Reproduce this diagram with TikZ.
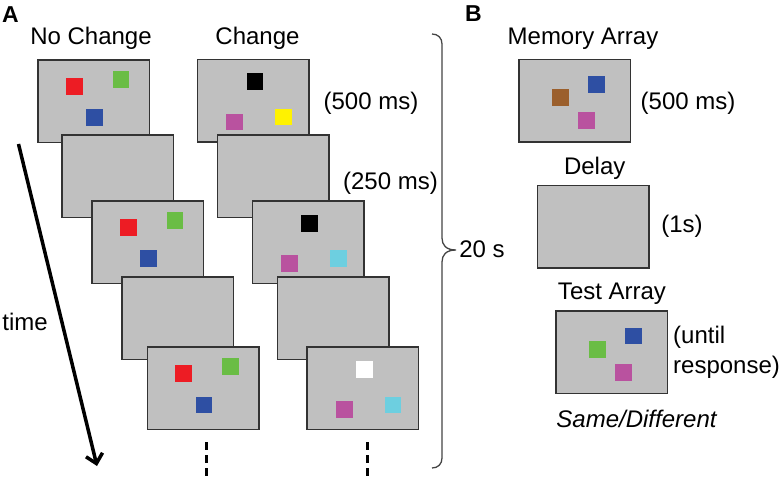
\documentclass[tikz,border=0pt]{standalone}
\usepackage{fontspec}
\setmainfont{Liberation Sans}
\usetikzlibrary{arrows.meta,calc}
\definecolor{scrgray}{HTML}{C0C0C0}
\definecolor{scrline}{HTML}{333333}
\definecolor{sqred}{HTML}{ED1C24}
\definecolor{sqgreen}{HTML}{6ABD45}
\definecolor{sqblue}{HTML}{2E4FA3}
\definecolor{sqmag}{HTML}{B9529F}
\definecolor{sqyellow}{HTML}{FFF200}
\definecolor{sqcyan}{HTML}{6DCFE0}
\definecolor{sqbrown}{HTML}{9B5F2C}
\definecolor{bracecol}{HTML}{444444}
\begin{document}
\begin{tikzpicture}[x=1pt,y=-1pt,
  screen/.style={draw=scrline, fill=scrgray, line width=1.5pt, anchor=north west,
    minimum width=111.5pt, minimum height=82.5pt, inner sep=0pt, outer sep=0pt},
  sq/.style={anchor=north west, minimum size=16.7pt, inner sep=0pt, outer sep=0pt, draw=none},
  lbl/.style={inner sep=0pt, font=\fontsize{24}{28}\selectfont, anchor=base},
  lblw/.style={inner sep=0pt, font=\fontsize{24}{28}\selectfont, anchor=base west},
  panel/.style={inner sep=0pt, font=\fontsize{23}{27}\selectfont\bfseries, anchor=base west},
  dashline/.style={line width=3pt, dash pattern=on 8pt off 5pt}
]
\useasboundingbox (0,0) rectangle (784,478);

% panel letters
\node[panel] (pA) at (2,22.7) {A};
\node[panel] (pB) at (465,21.7) {B};

% headings
\node[lbl] (hNC) at (91,44.3) {No Change};
\node[lbl] (hC) at (257.5,44.3) {Change};

% ---- No Change column ----
\node[screen] (L1) at (38,60) {};
\node[sq, fill=sqred] (L1r) at ($(L1.north west)+(28,18)$) {};
\node[sq, fill=sqgreen] (L1g) at ($(L1.north west)+(74.5,11)$) {};
\node[sq, fill=sqblue] (L1b) at ($(L1.north west)+(48.3,49.5)$) {};
\node[screen] (L2) at (62,135) {};
\node[screen] (L3) at (92,201) {};
\node[sq, fill=sqred] (L3r) at ($(L3.north west)+(28,18)$) {};
\node[sq, fill=sqgreen] (L3g) at ($(L3.north west)+(74.5,11)$) {};
\node[sq, fill=sqblue] (L3b) at ($(L3.north west)+(48.3,49.5)$) {};
\node[screen] (L4) at (122,277) {};
\node[screen] (L5) at (147.3,347) {};
\node[sq, fill=sqred] (L5r) at ($(L5.north west)+(28,18)$) {};
\node[sq, fill=sqgreen] (L5g) at ($(L5.north west)+(74.5,11)$) {};
\node[sq, fill=sqblue] (L5b) at ($(L5.north west)+(48.3,49.5)$) {};

% ---- Change column ----
\node[screen] (M1) at (197.3,59.5) {};
\node[sq, fill=black] (M1k) at ($(M1.north west)+(49.4,14)$) {};
\node[sq, fill=sqmag] (M1m) at ($(M1.north west)+(29,54.3)$) {};
\node[sq, fill=sqyellow] (M1y) at ($(M1.north west)+(78,49.3)$) {};
\node[screen] (M2) at (217.3,135) {};
\node[screen] (M3) at (252.3,201) {};
\node[sq, fill=black] (M3k) at ($(M3.north west)+(49,14)$) {};
\node[sq, fill=sqmag] (M3m) at ($(M3.north west)+(29,54)$) {};
\node[sq, fill=sqcyan] (M3c) at ($(M3.north west)+(78,49.3)$) {};
\node[screen] (M4) at (277.7,277) {};
\node[screen] (M5) at (307,347) {};
\node[sq, fill=white] (M5w) at ($(M5.north west)+(49,14)$) {};
\node[sq, fill=sqmag] (M5m) at ($(M5.north west)+(29,54)$) {};
\node[sq, fill=sqcyan] (M5c) at ($(M5.north west)+(77.5,49.5)$) {};

% durations
\node[lbl] (d500) at (371,110) {(500 ms)};
\node[lbl] (d250) at (390.5,190) {(250 ms)};

% time arrow
\coordinate (ts) at (18.5,144);
\coordinate (te) at (97,466);
\draw[line width=3.5pt, -{Straight Barb[length=9pt,width=17pt,line width=3.5pt]}] (ts) -- (te);
\node[lbl] (time) at (25,330) {time};

% continuation dashes
\coordinate (da1) at (206.7,442);
\coordinate (db1) at (206.7,476);
\coordinate (da2) at (367,442);
\coordinate (db2) at (367,476);
\draw[dashline] (da1) -- (db1);
\draw[dashline] (da2) -- (db2);

% brace
\coordinate (bt) at (432,34);
\coordinate (bm) at (456,250);
\coordinate (bb) at (432,468);
\draw[bracecol, line width=1.3pt]
  (bt) .. controls (438,34) and (442,38) .. (442,44) -- (442,238)
  .. controls (442,245) and (446,250) .. (bm)
  .. controls (446,250) and (442,255) .. (442,262) -- (442,458)
  .. controls (442,464) and (438,468) .. (bb);
\node[lbl] (twenty) at (482,258) {20 s};

% ---- Panel B ----
\node[lbl] (hMA) at (583,44.3) {Memory Array};
\node[screen] (MA) at (519,59.5) {};
\node[sq, fill=sqbrown] (MAbr) at ($(MA.north west)+(33,30)$) {};
\node[sq, fill=sqblue] (MAbl) at ($(MA.north west)+(69.3,16.5)$) {};
\node[sq, fill=sqmag] (MAm) at ($(MA.north west)+(59,53)$) {};
\node[lbl] (dMA) at (688,110) {(500 ms)};

\node[lbl] (hD) at (594.7,175) {Delay};
\node[screen] (DL) at (537.3,185.7) {};
\node[lbl] (dD) at (682,233) {(1s)};

\node[lbl] (hTA) at (612,299.3) {Test Array};
\node[screen] (TA) at (556,311) {};
\node[sq, fill=sqgreen] (TAg) at ($(TA.north west)+(33,30)$) {};
\node[sq, fill=sqblue] (TAb) at ($(TA.north west)+(69,16.5)$) {};
\node[sq, fill=sqmag] (TAm) at ($(TA.north west)+(59,53)$) {};
\node[lblw] (u1) at (673,343) {(until};
\node[lblw] (u2) at (673,373) {response)};
\node[lbl, font=\fontsize{24}{28}\selectfont\itshape] (sd) at (636.5,427) {Same/Different};
\end{tikzpicture}
\end{document}
